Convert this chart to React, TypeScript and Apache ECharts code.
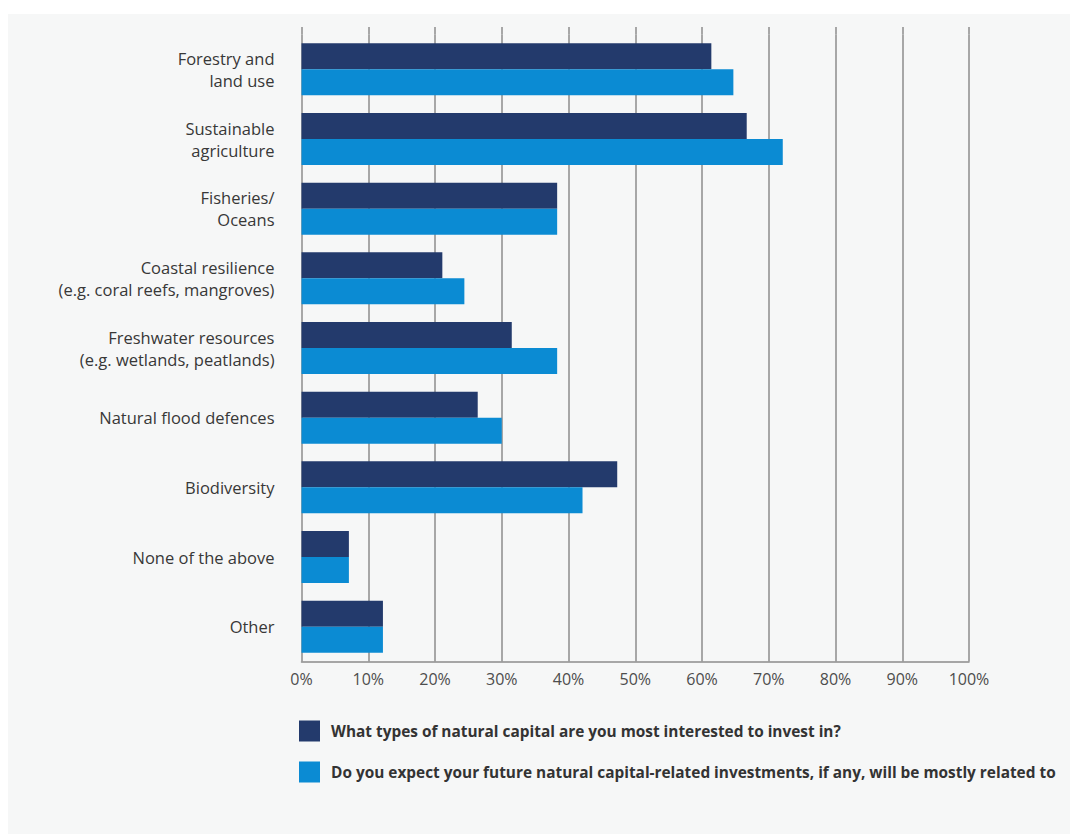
import React, { useEffect, useRef } from "react";
import * as echarts from "echarts";

const categories = [
  "Forestry and\nland use",
  "Sustainable\nagriculture",
  "Fisheries/\nOceans",
  "Coastal resilience\n(e.g. coral reefs, mangroves)",
  "Freshwater resources\n(e.g. wetlands, peatlands)",
  "Natural flood defences",
  "Biodiversity",
  "None of the above",
  "Other",
];

const interestedValues = [61.4, 66.7, 38.3, 21.1, 31.5, 26.4, 47.3, 7.1, 12.2];
const futureValues = [64.7, 72.1, 38.3, 24.4, 38.3, 30.0, 42.1, 7.1, 12.2];

const seriesNames = [
  "What types of natural capital are you most interested to invest in?",
  "Do you expect your future natural capital-related investments, if any, will be mostly related to",
];

const xTicks = [0, 10, 20, 30, 40, 50, 60, 70, 80, 90, 100];

const DARK = "#233a6c";
const LIGHT = "#0b8bd3";
const GRIDC = "#8c8c8c";
const FONT = "'Open Sans', 'Noto Sans', sans-serif";

export default function App() {
  const ref = useRef<HTMLDivElement>(null);
  useEffect(() => {
    if (!ref.current) return;
    const chart = echarts.init(ref.current, null, { renderer: "svg" });
    const left = 293.5;
    const right = 1070 - 961;
    const xMin = xTicks[0];
    const xMax = xTicks[xTicks.length - 1];
    const interval = xTicks[1] - xTicks[0];
    chart.setOption({
      animation: false,
      textStyle: { fontFamily: FONT },
      graphic: [
        {
          type: "rect",
          z: -10,
          silent: true,
          shape: { x: 0, y: 6, width: 1070, height: 820 },
          style: { fill: "#f6f7f7" },
        },
      ],
      grid: [
        { left, right, top: 26.5, bottom: 826 - 653.5, containLabel: false },
        { left, right, top: 19, height: 7.5, containLabel: false },
      ],
      legend: {
        orient: "vertical",
        left: 291,
        top: 712.5,
        padding: 0,
        itemWidth: 21,
        itemHeight: 21,
        itemGap: 20,
        icon: "rect",
        selectedMode: false,
        textStyle: {
          fontFamily: FONT,
          fontSize: 15.4,
          fontWeight: "bold",
          color: "#333",
          padding: [0, 0, 0, 6],
        },
        data: seriesNames,
      },
      xAxis: [
        {
          type: "value",
          gridIndex: 0,
          min: xMin,
          max: xMax,
          interval,
          axisLine: { show: true, lineStyle: { color: GRIDC, width: 1.5 } },
          axisTick: { show: false },
          splitLine: { show: true, lineStyle: { color: GRIDC, width: 1.5 } },
          axisLabel: {
            color: "#4d4d4d",
            fontSize: 16,
            margin: 9,
            fontFamily: FONT,
            formatter: (v: number) => `${v}%`,
          },
        },
        {
          type: "value",
          gridIndex: 1,
          min: xMin,
          max: xMax,
          interval,
          axisLine: { show: false },
          axisTick: { show: false },
          axisLabel: { show: false },
          splitLine: { show: true, lineStyle: { color: GRIDC, width: 1.5 } },
        },
      ],
      yAxis: [
        {
          type: "category",
          gridIndex: 0,
          inverse: true,
          data: categories,
          axisLine: { show: false },
          axisTick: { show: false },
          splitLine: { show: false },
          axisLabel: {
            color: "#383838",
            fontSize: 16.5,
            lineHeight: 22,
            margin: 27,
            align: "right",
            fontFamily: FONT,
          },
        },
        {
          type: "category",
          gridIndex: 1,
          data: ["x"],
          show: false,
        },
      ],
      series: [
        {
          name: seriesNames[0],
          type: "bar",
          xAxisIndex: 0,
          yAxisIndex: 0,
          data: interestedValues,
          barWidth: 26,
          barGap: "0%",
          itemStyle: { color: DARK },
        },
        {
          name: seriesNames[1],
          type: "bar",
          xAxisIndex: 0,
          yAxisIndex: 0,
          data: futureValues,
          barWidth: 26,
          barGap: "0%",
          itemStyle: { color: LIGHT },
        },
      ],
    });
    return () => chart.dispose();
  }, []);
  return <div ref={ref} style={{ width: 1070, height: 826 }} />;
}
